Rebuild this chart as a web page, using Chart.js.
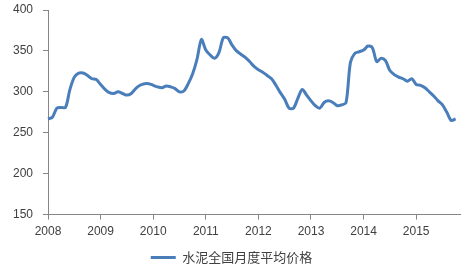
<!DOCTYPE html>
<html>
<head>
<meta charset="utf-8">
<script src="https://cdn.jsdelivr.net/npm/chart.js@4/dist/chart.umd.min.js"></script>
<style>
    html, body { margin: 0; padding: 0; background: #fff; overflow: hidden; }
    #wrap { width: 468px; height: 280px; margin-top: -6px; }
</style>
</head>
<body>
<div id="wrap"><canvas id="priceChart"></canvas></div>
<script>
const years = ['2008', '2009', '2010', '2011', '2012', '2013', '2014', '2015'];
const seriesName = '水泥全国月度平均价格';
const yTicks = [150, 200, 250, 300, 350, 400];

// monthly values, Jan 2008 .. Oct 2015
const price2008 = [267, 269, 280, 281, 281, 303, 318, 323, 323, 320, 316, 315];
const price2009 = [309, 303, 299, 298, 300, 298, 296, 298, 304, 308, 310, 310];
const price2010 = [308, 306, 305, 307, 306, 304, 300, 301, 310, 322, 340, 364];
const price2011 = [351, 345, 341, 348, 366, 366, 357, 350, 346, 342, 337, 331];
const price2012 = [327, 324, 320, 316, 308, 299, 291, 280, 280, 292, 303, 296];
const price2013 = [289, 283, 280, 287, 289, 287, 283, 284, 287, 336, 347, 349];
const price2014 = [351, 356, 354, 337, 341, 338, 326, 321, 318, 316, 313, 316];
const price2015 = [309, 308, 305, 300, 295, 289, 284, 275, 265, 267];

const prices = [].concat(price2008, price2009, price2010, price2011,
    price2012, price2013, price2014, price2015);

// one category per month, plus one empty slot after the last point
const labels = [];
years.forEach(y => {
    for (let m = 1; m <= 12; m++) labels.push(y + '-' + m);
});
labels.length = prices.length + 1;

const lineColor = '#4a7ebb';
const axisColor = '#868686';

const ctx = document.getElementById('priceChart').getContext('2d');
const priceChart = new Chart(ctx, {
    type: 'line',
    data: {
        labels: labels,
        datasets: [{
            label: seriesName,
            data: prices,
            borderColor: lineColor,
            backgroundColor: lineColor,
            borderWidth: 3,
            pointRadius: 0,
            tension: 0.3
        }]
    },
    options: {
        responsive: true,
        maintainAspectRatio: false,
        animation: false,
        layout: {
            padding: { left: 3, right: 8, top: 0, bottom: 0 }
        },
        plugins: {
            tooltip: { enabled: false },
            legend: {
                position: 'bottom',
                labels: {
                    color: '#404040',
                    font: { family: '"Noto Sans CJK SC", "Liberation Sans", sans-serif', size: 13 },
                    boxWidth: 25,
                    boxHeight: 3,
                    padding: 7,
                    generateLabels: function(chart) {
                        const items = Chart.defaults.plugins.legend.labels.generateLabels(chart);
                        items.forEach(item => { item.lineWidth = 0; item.fillStyle = lineColor; });
                        return items;
                    }
                }
            }
        },
        scales: {
            x: {
                offset: false,
                grid: {
                    drawOnChartArea: false,
                    color: axisColor,
                    tickLength: 5
                },
                border: { color: axisColor, width: 1 },
                ticks: {
                    autoSkip: false,
                    maxRotation: 0,
                    padding: 5,
                    color: '#404040',
                    font: { family: '"Liberation Sans", Arial, sans-serif', size: 12 },
                    callback: function(value, index) {
                        if (index % 12 !== 0) return null;
                        return years[index / 12];
                    }
                }
            },
            y: {
                min: yTicks[0],
                max: yTicks[yTicks.length - 1],
                grid: {
                    drawOnChartArea: false,
                    color: axisColor,
                    tickLength: 5
                },
                border: { color: axisColor, width: 1 },
                afterBuildTicks: function(axis) {
                    axis.ticks = yTicks.map(v => ({ value: v }));
                },
                ticks: {
                    padding: 10,
                    color: '#404040',
                    font: { family: '"Liberation Sans", Arial, sans-serif', size: 12, lineHeight: 1 }
                }
            }
        }
    }
});
</script>
</body>
</html>
